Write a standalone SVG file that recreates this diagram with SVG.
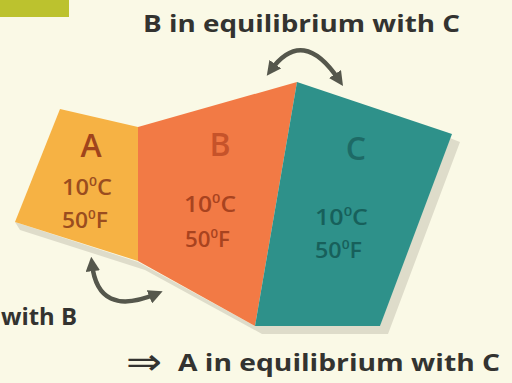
<svg xmlns="http://www.w3.org/2000/svg" width="512" height="383" viewBox="0 0 512 383">
<defs>
<style>
.cap{font-family:"Open Sans","DejaVu Sans",sans-serif;font-weight:700;fill:#333330;font-size:24px}
.lbl{font-family:"Open Sans","DejaVu Sans",sans-serif;font-weight:600}
.big{font-size:32px}
.t{font-size:22px}
.arr{fill:none;stroke:#55574c;stroke-width:4.5;stroke-linecap:round}
</style>
<marker id="ah" viewBox="0 0 10 10" refX="5" refY="5" markerWidth="3.2" markerHeight="3.2" orient="auto-start-reverse">
<path d="M0,0 L10,5 L0,10 Z" fill="#55574c"/>
</marker>
</defs>
<rect width="512" height="383" fill="#faf9e6"/>
<rect x="0" y="0" width="69" height="17" fill="#bcc22e"/>
<polygon points="20,230 145,270 262,334 388,334 460,142 442,135 380,326 255,326 138,262 15,222" fill="#dedcca"/>
<g id="nodeA">
<polygon points="60,109 138,127 138,261 15,222" fill="#f6b244"/>
<text class="lbl big" x="91" y="157" text-anchor="middle" fill="#a0441c">A</text>
<text class="lbl t" x="62" y="195" textLength="50" lengthAdjust="spacingAndGlyphs" fill="#9a4d1f">10<tspan font-size="13" dy="-9">0</tspan><tspan dy="9">C</tspan></text>
<text class="lbl t" x="62" y="228" textLength="46" lengthAdjust="spacingAndGlyphs" fill="#9a4d1f">50<tspan font-size="13" dy="-9">0</tspan><tspan dy="9">F</tspan></text>
</g>
<g id="nodeB">
<polygon points="138,127 297,82 255,326 138,261" fill="#f27a45"/>
<text class="lbl big" x="220" y="156" text-anchor="middle" fill="#c6532a">B</text>
<text class="lbl t" x="184" y="212" textLength="52" lengthAdjust="spacingAndGlyphs" fill="#a8431f">10<tspan font-size="13" dy="-9">0</tspan><tspan dy="9">C</tspan></text>
<text class="lbl t" x="185" y="247" textLength="45" lengthAdjust="spacingAndGlyphs" fill="#a8431f">50<tspan font-size="13" dy="-9">0</tspan><tspan dy="9">F</tspan></text>
</g>
<g id="nodeC">
<polygon points="297,82 452,134 380,326 255,326" fill="#2e918a"/>
<text class="lbl big" x="356" y="160" text-anchor="middle" fill="#1d6a66">C</text>
<text class="lbl t" x="315" y="225" textLength="53" lengthAdjust="spacingAndGlyphs" fill="#17605b">10<tspan font-size="13" dy="-9">0</tspan><tspan dy="9">C</tspan></text>
<text class="lbl t" x="315" y="258" textLength="47" lengthAdjust="spacingAndGlyphs" fill="#17605b">50<tspan font-size="13" dy="-9">0</tspan><tspan dy="9">F</tspan></text>
</g>
<g id="connectors">
<path class="arr" d="M271,70 Q303,26 339,80" marker-start="url(#ah)" marker-end="url(#ah)"/>
<path class="arr" d="M92,264 Q98,318 156,294" marker-start="url(#ah)" marker-end="url(#ah)"/>
</g>
<g id="captions">
<text class="cap" x="143" y="32" textLength="317" lengthAdjust="spacingAndGlyphs">B in equilibrium with C</text>
<text class="cap" x="1" y="325" textLength="76" lengthAdjust="spacingAndGlyphs">with B</text>
<text x="126" y="374" font-family="DejaVu Sans, sans-serif" font-size="36" fill="#333330" textLength="36" lengthAdjust="spacingAndGlyphs">⇒</text>
<text class="cap" x="178" y="371" textLength="322" lengthAdjust="spacingAndGlyphs">A in equilibrium with C</text>
</g>
</svg>
